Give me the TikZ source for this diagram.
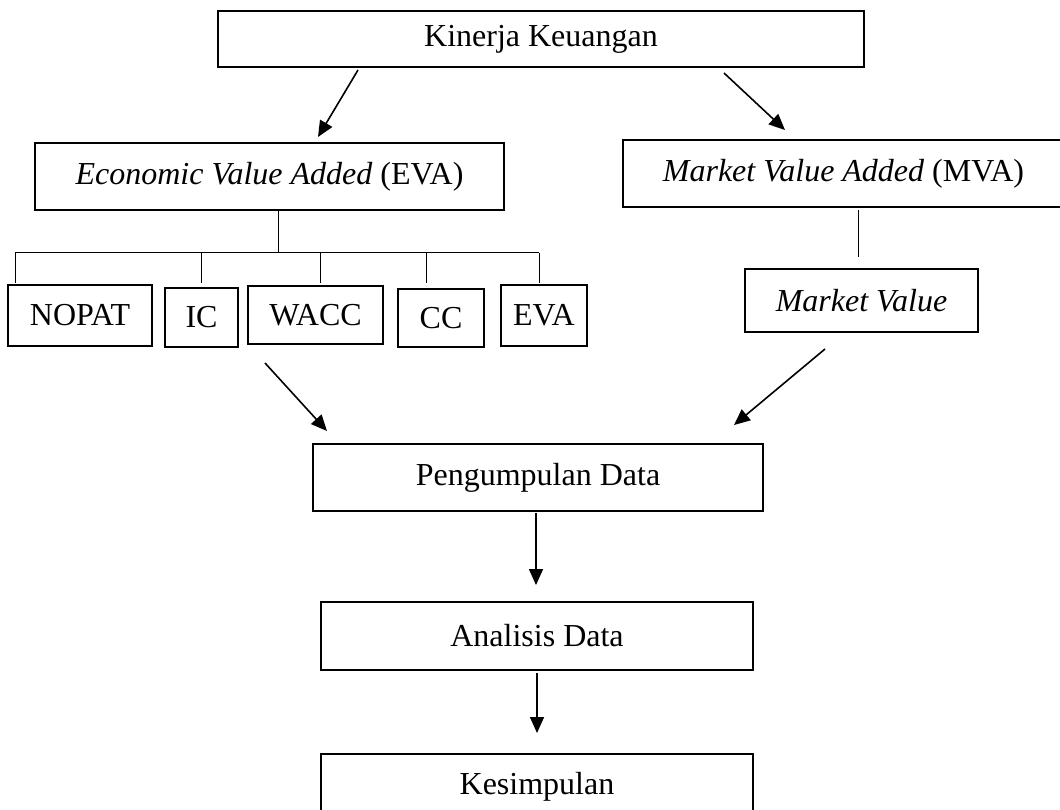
\documentclass[tikz,border=0pt]{standalone}
\usepackage{fontspec}
\setmainfont{Liberation Serif}
\usetikzlibrary{positioning}
\usetikzlibrary{arrows.meta}

\begin{document}
\begin{tikzpicture}[x=0.5pt,y=-0.5pt,every node/.style={inner sep=0,outer sep=0,font=\fontsize{16}{19}\selectfont},
    box/.style={draw,line width=1pt},
    arr/.style={line width=0.8pt,-{Triangle[length=8pt,width=7pt]}},
    stem/.style={line width=0.45pt}]
    \useasboundingbox (0,0) rectangle (1060,809);
    % boxes
    \node[box,minimum width=323pt,minimum height=28pt] (K1) at (541,39) {Kinerja Keuangan};
    \node[box,minimum width=234.5pt,minimum height=33.5pt] (E1) at (269.5,176.5) {\textit{Economic Value Added} (EVA)};
    \node[box,minimum width=226.5pt,minimum height=33.5pt] (M1) at (849.5,173.5) {\textit{Market Value Added} (MVA)\kern6pt};
    \node[box,minimum width=72pt,minimum height=30.5pt] (E2) at (80,315.5) {NOPAT};
    \node[box,minimum width=36.5pt,minimum height=29.5pt] (E3) at (201.5,317.5) {IC};
    \node[box,minimum width=67.5pt,minimum height=29pt] (E4) at (315.5,315) {WACC};
    \node[box,minimum width=43pt,minimum height=29pt] (E5) at (441,318) {CC};
    \node[box,minimum width=43pt,minimum height=30.5pt] (E6) at (544,315.5) {EVA};
    \node[box,minimum width=116.5pt,minimum height=31.5pt] (M2) at (861.5,300.5) {\textit{Market Value}};
    \node[box,minimum width=225pt,minimum height=33.5pt] (P1) at (538,477.5) {Pengumpulan Data};
    \node[box,minimum width=216pt,minimum height=34pt] (P2) at (537,636) {Analisis Data};
    \node[box,minimum width=216pt,minimum height=33pt] (P3) at (537,787) {Kesimpulan};
    % tree lines
    \coordinate (J0) at (278,252);
    \coordinate (J1) at (15,253);
    \coordinate (J2) at (201,253);
    \coordinate (J3) at (320,253);
    \coordinate (J4) at (426,253);
    \coordinate (J5) at (539,253);
    \draw[stem] (E1.south -| J0) -- (J0);
    \draw[stem] (15,252) -- (539,252);
    \draw[stem,shorten >=1pt] (J1) -- (J1 |- E2.north);
    \draw[stem,shorten >=2.5pt] (J2) -- (J2 |- E3.north);
    \draw[stem,shorten >=1.5pt] (J3) -- (J3 |- E4.north);
    \draw[stem,shorten >=3pt] (J4) -- (J4 |- E5.north);
    \draw[stem,shorten >=1pt] (J5) -- (J5 |- E6.north);
    \draw[stem,shorten <=1.5pt,shorten >=6pt] (M1.south -| 858,0) -- (M2.north -| 858,0);
    % arrows
    \coordinate (A1) at (358,70);
    \coordinate (A2) at (318,137);
    \coordinate (B1) at (724,73);
    \coordinate (B2) at (785,130);
    \coordinate (C1) at (265,363);
    \coordinate (C2) at (327,431);
    \coordinate (D1) at (825,349);
    \coordinate (D2) at (734,425);
    \draw[arr] (A1) -- (A2);
    \draw[arr] (B1) -- (B2);
    \draw[arr] (C1) -- (C2);
    \draw[arr] (D1) -- (D2);
    \draw[arr,shorten <=1pt,shorten >=8.5pt] (P1.south -| 536,0) -- (P2.north -| 536,0);
    \draw[arr,shorten <=1.5pt,shorten >=10.5pt] (P2.south) -- (P3.north);
\end{tikzpicture}
\end{document}
